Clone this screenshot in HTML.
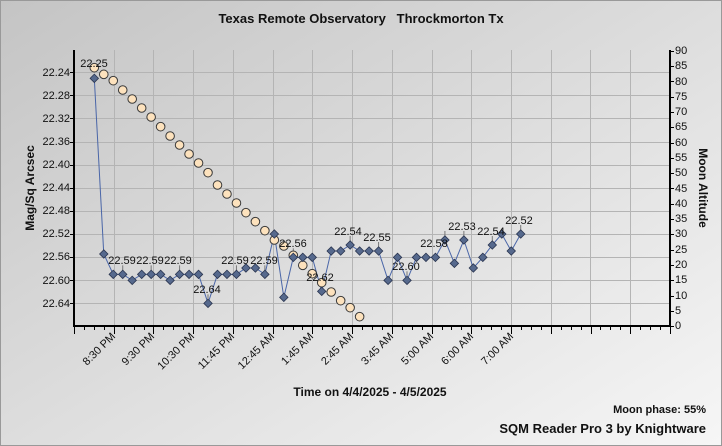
<!DOCTYPE html>
<html><head><meta charset="utf-8"><style>
html,body{margin:0;padding:0;width:722px;height:446px;overflow:hidden}
svg{display:block}
text{font-family:"Liberation Sans",Arial,sans-serif}
</style></head><body>
<svg id="s" width="722" height="446" xmlns="http://www.w3.org/2000/svg">
<defs>
<linearGradient id="bg" x1="0" y1="0" x2="1" y2="1">
<stop offset="0" stop-color="#c4c4c4"/><stop offset="0.6" stop-color="#e2e2e2"/><stop offset="1" stop-color="#f6f6f6"/>
</linearGradient>
</defs>
<rect x="0" y="0" width="722" height="446" fill="url(#bg)"/>
<rect x="0.5" y="0.5" width="721" height="445" fill="none" stroke="#999"/>
<g id="grid" stroke="#b4b4b4" stroke-width="1"></g>
<text x="361" y="23" font-size="13" font-weight="bold" text-anchor="middle" fill="#111" xml:space="preserve">Texas Remote Observatory   Throckmorton Tx</text>
<g font-size="11" fill="#111" text-anchor="end">
<text x="70" y="76">22.24</text><text x="70" y="99">22.28</text><text x="70" y="122">22.32</text><text x="70" y="145">22.36</text><text x="70" y="168">22.40</text><text x="70" y="191">22.44</text><text x="70" y="214">22.48</text><text x="70" y="237">22.52</text><text x="70" y="260">22.56</text><text x="70" y="284">22.60</text><text x="70" y="307">22.64</text>
</g>
<g font-size="11" fill="#111">
<text x="675" y="54">90</text><text x="675" y="69">85</text><text x="675" y="85">80</text><text x="675" y="100">75</text><text x="675" y="115">70</text><text x="675" y="130">65</text><text x="675" y="146">60</text><text x="675" y="161">55</text><text x="675" y="176">50</text><text x="675" y="192">45</text><text x="675" y="207">40</text><text x="675" y="222">35</text><text x="675" y="237">30</text><text x="675" y="253">25</text><text x="675" y="268">20</text><text x="675" y="283">15</text><text x="675" y="299">10</text><text x="675" y="314">5</text><text x="675" y="329">0</text>
</g>
<text transform="translate(34,188) rotate(-90)" font-size="12" font-weight="bold" text-anchor="middle" fill="#111">Mag/Sq Arcsec</text>
<text transform="translate(699,188) rotate(90)" font-size="12" font-weight="bold" text-anchor="middle" fill="#111">Moon Altitude</text>
<g font-size="11" fill="#111" text-anchor="end">
<text transform="translate(116,337) rotate(-45)">8:30 PM</text>
<text transform="translate(155,337) rotate(-45)">9:30 PM</text>
<text transform="translate(195,337) rotate(-45)">10:30 PM</text>
<text transform="translate(235,337) rotate(-45)">11:45 PM</text>
<text transform="translate(275,337) rotate(-45)">12:45 AM</text>
<text transform="translate(314,337) rotate(-45)">1:45 AM</text>
<text transform="translate(354,337) rotate(-45)">2:45 AM</text>
<text transform="translate(394,337) rotate(-45)">3:45 AM</text>
<text transform="translate(434,337) rotate(-45)">5:00 AM</text>
<text transform="translate(474,337) rotate(-45)">6:00 AM</text>
<text transform="translate(514,337) rotate(-45)">7:00 AM</text>
</g>
<text x="370" y="396" font-size="12" font-weight="bold" text-anchor="middle" fill="#111">Time on 4/4/2025 - 4/5/2025</text>
<text x="706" y="413" font-size="11" font-weight="bold" text-anchor="end" fill="#111">Moon phase: 55%</text>
<text x="706" y="433" font-size="13" font-weight="bold" text-anchor="end" fill="#111">SQM Reader Pro 3 by Knightware</text>
<g id="data"></g>
<g font-size="11" fill="#111" text-anchor="middle">
<text x="94" y="67">22.25</text>
<text x="122" y="264">22.59</text><text x="150" y="264">22.59</text><text x="178" y="264">22.59</text>
<text x="207" y="293">22.64</text>
<text x="235" y="264">22.59</text><text x="264" y="264">22.59</text>
<text x="293" y="247">22.56</text>
<text x="320" y="281">22.62</text>
<text x="348" y="235">22.54</text>
<text x="377" y="241">22.55</text>
<text x="406" y="270">22.60</text>
<text x="434" y="247">22.58</text>
<text x="462" y="230">22.53</text>
<text x="491" y="235">22.54</text>
<text x="519" y="224">22.52</text>
</g>
</svg>
<script>
var NS="http://www.w3.org/2000/svg";
function el(p,n,a){var e=document.createElementNS(NS,n);for(var k in a)e.setAttribute(k,a[k]);p.appendChild(e);return e;}
var g=document.getElementById('grid');
for(var k=1;k<15;k++){var x=Math.round(74+39.73*k)+0.5;el(g,'line',{x1:x,y1:50,x2:x,y2:326});}
for(var j=0;j<=10;j++){var y=Math.round(72.3+23.07*j)+0.5;el(g,'line',{x1:74,y1:y,x2:670,y2:y});}
var s=document.getElementById('s');
var ax=el(s,'g',{stroke:'#000'});
el(ax,'line',{x1:74,y1:50,x2:74,y2:327,'stroke-width':2});
el(ax,'line',{x1:670,y1:50,x2:670,y2:327,'stroke-width':2});
el(ax,'line',{x1:73,y1:326,x2:671,y2:326,'stroke-width':2});
for(var j=0;j<=10;j++){var y=Math.round(72.3+23.07*j)+0.5;el(ax,'line',{x1:70,y1:y,x2:74,y2:y});}
for(var j=0;j<=18;j++){var y=Math.round(50.7+15.3*j)+0.5;el(ax,'line',{x1:670,y1:y,x2:674,y2:y});}
for(var k=0;k<=60;k++){var x=Math.round(74+9.933*k)+0.5;el(ax,'line',{x1:x,y1:326,x2:x,y2:(k%4==0)?334:330});}
var d=document.getElementById('data');
var by=[145,672,733,733,751,733,733,733,751,733,733,733,820,733,733,733,714,714,733,612,802,682,682,682,784,663,663,645,663,663,663,751,682,751,682,682,682,630,700,630,714,682,645,612,663,612];
var pts=by.map(function(v,i){return [94.3+9.476*i,30+v/3];});
var lab=[0,3,6,9,12,15,18,21,24,27,30,33,37,39,42,45];
lab.forEach(function(i){var p=pts[i];if(i>0)el(d,'line',{x1:p[0],y1:p[1]-3,x2:p[0],y2:p[1]-9,stroke:'#777'});});
el(d,'polyline',{points:pts.map(function(p){return p.join(',')}).join(' '),fill:'none',stroke:'#4a66a8','stroke-width':1});
var my=[113,133,152,180,207,234,261,290,318,345,372,399,428,465,492,519,548,575,602,630,648,676,706,731,758,786,812,833,860];
my.forEach(function(v,i){el(d,'circle',{cx:94.3+9.476*i,cy:30+v/3,r:4.3,fill:'#fde2bd',stroke:'#3a3a3a','stroke-width':1});});
pts.forEach(function(p){var x=p[0],y=p[1],r=4.2;el(d,'polygon',{points:[x,y-r,x+r,y,x,y+r,x-r,y].join(' ').replace(/(\S+) (\S+)/g,'$1,$2'),fill:'#56698d',stroke:'#2a3550','stroke-width':0.8});});
</script>
</body></html>
